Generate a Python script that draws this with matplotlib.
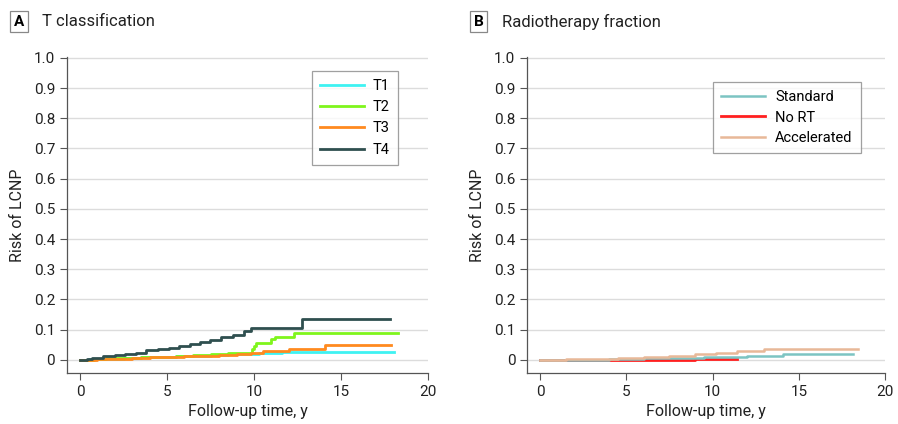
import numpy as np
import matplotlib
matplotlib.use("Agg")
import matplotlib.pyplot as plt

plt.rcParams['font.family'] = ['Roboto', 'DejaVu Sans']

# panel A: T classification (step curves, time in years)
t1_t = [0, 0.5, 1.5, 2.5, 3.5, 4.5, 5.5, 6.5, 7.5, 8.5, 9.5, 10.3, 11.6, 18.05]
t1_v = [0, 0.002, 0.004, 0.006, 0.008, 0.010, 0.012, 0.014, 0.016, 0.018, 0.020, 0.023, 0.027, 0.027]
t2_t = [0, 0.8, 1.5, 2.5, 3.5, 4.5, 5.5, 6.5, 7.5, 8.5, 9.3, 9.9, 10.0, 10.1, 11.0, 11.2, 12.3, 18.3]
t2_v = [0, 0.003, 0.005, 0.007, 0.009, 0.011, 0.014, 0.017, 0.020, 0.022, 0.024, 0.035, 0.045, 0.055, 0.068, 0.077, 0.090, 0.090]
t3_t = [0, 1, 2, 3, 4, 5, 6, 7, 8, 9, 9.8, 10.5, 12.0, 14.1, 17.85]
t3_v = [0, 0.002, 0.004, 0.006, 0.008, 0.010, 0.012, 0.014, 0.017, 0.020, 0.024, 0.030, 0.037, 0.050, 0.050]
t4_t = [0, 0.4, 0.7, 1.3, 2.0, 2.6, 3.2, 3.8, 4.5, 5.1, 5.7, 6.3, 6.9, 7.45, 8.1, 8.8, 9.45, 9.8, 12.75, 17.8]
t4_v = [0, 0.003, 0.007, 0.013, 0.016, 0.019, 0.024, 0.031, 0.036, 0.040, 0.045, 0.053, 0.058, 0.065, 0.075, 0.083, 0.096, 0.107, 0.135, 0.135]

# panel B: radiotherapy fraction
std_t = [0, 2, 4, 6, 8, 9.5, 11, 12, 14.1, 18.15]
std_v = [0, 0.001, 0.003, 0.005, 0.007, 0.009, 0.011, 0.013, 0.019, 0.019]
nort_t = [0, 3, 6, 9, 11.4]
nort_v = [0, 0.0005, 0.001, 0.002, 0.002]
acc_t = [0, 1.5, 3, 4.5, 6, 7.5, 9, 10.2, 11.4, 13, 18.4]
acc_v = [0, 0.002, 0.004, 0.007, 0.010, 0.014, 0.018, 0.024, 0.030, 0.035, 0.035]

fig = plt.figure(figsize=(8.98, 4.24), dpi=100)
axA = fig.add_axes([0.0746, 0.12, 0.402, 0.7456])
axB = fig.add_axes([0.587, 0.12, 0.3987, 0.7456])

def style(ax):
    ax.set_xlim(-0.75, 20)
    ax.set_ylim(-0.044, 1.003)
    ax.set_xticks([0, 5, 10, 15, 20])
    ax.set_yticks(np.arange(0, 1.01, 0.1))
    ax.set_yticklabels(['0'] + ['%.1f' % v for v in np.arange(0.1, 1.01, 0.1)])
    ax.yaxis.grid(True, color='#dcdcdc', lw=1)
    ax.set_axisbelow(True)
    for s in ['top', 'right']:
        ax.spines[s].set_visible(False)
    for s in ['left', 'bottom']:
        ax.spines[s].set_color('#555555')
        ax.spines[s].set_linewidth(0.9)
    ax.tick_params(colors='#555555', labelcolor='#222222', labelsize=11, length=5, width=0.8)
    ax.set_xlabel('Follow-up time, y', fontsize=11.5, color='#222222')
    ax.set_ylabel('Risk of LCNP', fontsize=11.5, color='#222222', labelpad=6)

style(axA)
style(axB)

axA.step(t1_t, t1_v, where='post', color='#3ff2f2', lw=2, label='T1')
axA.step(t2_t, t2_v, where='post', color='#7ff51c', lw=2, label='T2')
axA.step(t3_t, t3_v, where='post', color='#ff8a1f', lw=2, label='T3')
axA.step(t4_t, t4_v, where='post', color='#2f4f4f', lw=2, label='T4')
legA = axA.legend(loc='upper left', bbox_to_anchor=(0.68, 0.956), fontsize=10.5,
                  frameon=True, fancybox=False, edgecolor='#888888', borderaxespad=0,
                  handlelength=3.0, handletextpad=0.6, labelspacing=0.5, borderpad=0.55)
legA.get_frame().set_linewidth(0.9)

axB.step(nort_t, nort_v, where='post', color='#ff1f1f', lw=2, label='No RT', zorder=2)
axB.step(std_t, std_v, where='post', color='#7cc4c2', lw=1.8, label='Standard', zorder=3)
axB.step(acc_t, acc_v, where='post', color='#e8b898', lw=1.8, label='Accelerated', zorder=4)
h, l = axB.get_legend_handles_labels()
order = [1, 0, 2]
legB = axB.legend([h[i] for i in order], [l[i] for i in order], loc='upper left',
                  bbox_to_anchor=(0.52, 0.921), fontsize=10.5, frameon=True, fancybox=False,
                  edgecolor='#888888', borderaxespad=0, handlelength=3.0, handletextpad=0.7,
                  labelspacing=0.45, borderpad=0.55)
legB.get_frame().set_linewidth(0.9)

box = dict(boxstyle='square,pad=0.25', facecolor='white', edgecolor='#888888', lw=0.9)
fig.text(0.021, 0.949, 'A', fontsize=11, fontweight='bold', ha='center', va='center', bbox=box)
fig.text(0.047, 0.949, 'T classification', fontsize=12, ha='left', va='center', color='#222222')
fig.text(0.533, 0.949, 'B', fontsize=11, fontweight='bold', ha='center', va='center', bbox=box)
fig.text(0.559, 0.949, 'Radiotherapy fraction', fontsize=12, ha='left', va='center', color='#222222')

fig.savefig('out.png', dpi=100)
